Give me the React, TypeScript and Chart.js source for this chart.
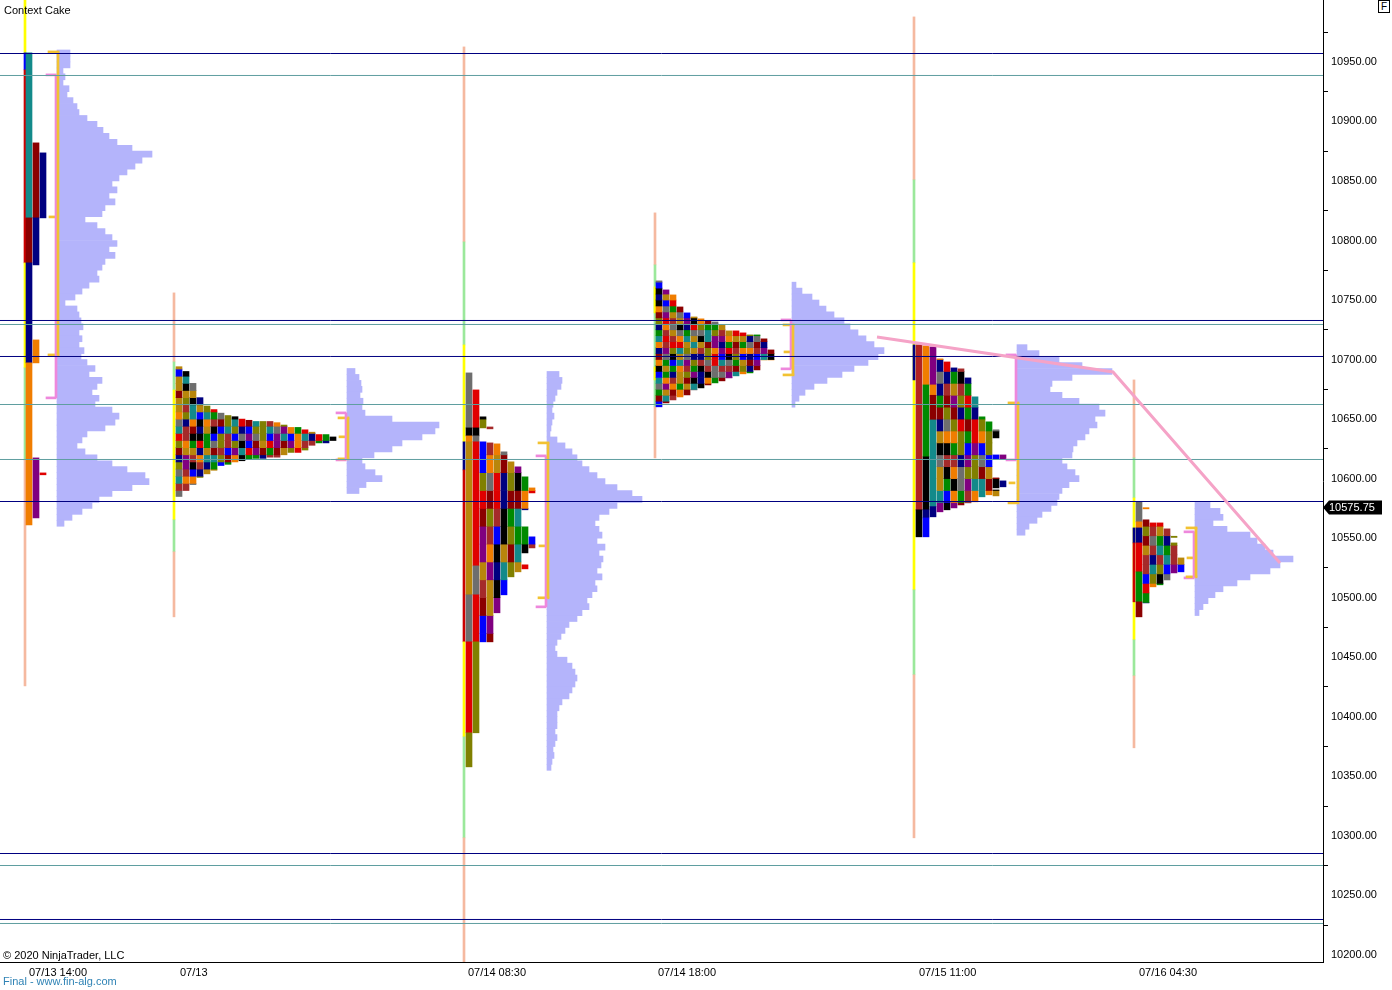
import React, { useEffect, useRef } from "react";
import Chart from "chart.js/auto";

const FONT = '"Liberation Sans", Arial, Helvetica, sans-serif';

// ---------- axes ----------
const Y_MIN = 10194;
const Y_MAX = 11002;
const Y_TICKS = [10200, 10250, 10300, 10350, 10400, 10450, 10500, 10550, 10600, 10650, 10700, 10750, 10800, 10850, 10900, 10950];
const X_MIN = 0;
const X_MAX = 1323;
const X_TICK_POS = [29, 180, 468, 658, 919, 1139];
const X_TICK_LABELS = ["07/13 14:00", "07/13", "07/14 08:30", "07/14 18:00", "07/15 11:00", "07/16 04:30"];
const LAST_PRICE = 10575.75;

// ---------- horizontal levels ----------
const NAVY_LEVELS = [10957.06, 10732.81, 10702.57, 10580.78, 10285.13, 10229.7];
const TEAL_LEVELS = [10938.59, 10729.45, 10662.25, 10616.06, 10275.05, 10226.34];

// ---------- session lines: [session, low, high, colour] ----------
const SESSION_X = [25, 174, 464, 655, 914, 1134];
const SESSION_SEGMENTS: [number, number, number, string][] = [
  [0, 10957.6, 11002, "y"], [0, 10943.3, 10957.6, "blue"], [0, 10781.2, 10943.3, "red"], [0, 10693.0, 10781.2, "y"], [0, 10615.7, 10693.0, "g"], [0, 10425.9, 10615.7, "s"],
  [1, 10698.0, 10756.0, "s"], [1, 10674.5, 10698.0, "g"], [1, 10565.4, 10674.5, "y"], [1, 10538.5, 10565.4, "g"], [1, 10483.9, 10538.5, "s"],
  [2, 10798.8, 10962.6, "s"], [2, 10712.3, 10798.8, "g"], [2, 10630.9, 10712.3, "y"], [2, 10607.3, 10630.9, "navy"], [2, 10462.9, 10607.3, "red"], [2, 10383.1, 10462.9, "y"], [2, 10298.3, 10383.1, "g"], [2, 10194, 10298.3, "s"],
  [3, 10779.5, 10823.2, "s"], [3, 10660.3, 10779.5, "g"], [3, 10739.2, 10761.0, "y"], [3, 10682.9, 10693.8, "y"], [3, 10617.4, 10660.3, "s"],
  [4, 10850.9, 10987.8, "s"], [4, 10781.2, 10850.9, "g"], [4, 10506.6, 10781.2, "y"], [4, 10435.2, 10506.6, "g"], [4, 10298.3, 10435.2, "s"], [4, 10682.9, 10712.3, "navy"],
  [5, 10617.4, 10682.9, "s"], [5, 10583.8, 10617.4, "g"], [5, 10464.6, 10583.8, "y"], [5, 10434.3, 10464.6, "g"], [5, 10373.9, 10434.3, "s"], [5, 10546.0, 10558.6, "navy"], [5, 10496.5, 10546.0, "red"],
];

// ---------- volume profiles (row width per 5-point row, from top row) ----------
const PROFILE_BASE_X = [57, 347, 547, 792, 1017, 1195];
const VOL_TOP = [10957.5, 10690, 10687.5, 10762.5, 10710, 10577.5];
const VOL_STEP = 5;
const P1_VOL = [13, 13, 13, 6, 8, 6, 12, 10, 16, 20, 22, 30, 40, 46, 52, 60, 75, 95, 85, 78, 70, 62, 55, 60, 52, 58, 48, 45, 28, 40, 48, 55, 60, 52, 58, 48, 45, 40, 42, 32, 25, 18, 8, 20, 22, 24, 26, 22, 25, 22, 27, 24, 30, 38, 32, 45, 40, 35, 42, 38, 55, 62, 58, 48, 30, 25, 20, 28, 40, 55, 70, 88, 92, 75, 55, 42, 35, 25, 15, 7];
const P2_VOL = [8, 12, 14, 15, 13, 16, 15, 18, 45, 92, 88, 75, 55, 45, 27, 15, 18, 28, 35, 19, 12];
const P3_VOL = [12, 15, 14, 10, 8, 6, 5, 7, 5, 4, 3, 10, 18, 25, 30, 35, 42, 50, 58, 70, 85, 95, 70, 62, 52, 48, 52, 55, 50, 58, 52, 56, 54, 50, 55, 48, 50, 45, 40, 42, 35, 30, 22, 18, 14, 10, 8, 10, 20, 25, 28, 30, 28, 25, 22, 15, 12, 10, 10, 10, 8, 10, 8, 6, 7, 5, 4];
const P4_VOL = [4, 10, 20, 27, 34, 42, 52, 58, 66, 74, 82, 92, 86, 76, 62, 50, 35, 22, 13, 7, 3];
const P5_VOL = [10, 22, 42, 65, 95, 55, 35, 33, 45, 62, 82, 88, 78, 80, 72, 68, 60, 56, 55, 45, 50, 58, 62, 52, 45, 42, 40, 34, 25, 20, 12, 8];
const P6_VOL = [15, 25, 28, 18, 32, 55, 62, 70, 78, 98, 85, 75, 55, 42, 28, 20, 13, 8, 4];
const VOLUMES = [P1_VOL, P2_VOL, P3_VOL, P4_VOL, P5_VOL, P6_VOL];

// ---------- value areas ----------
const VA_YELLOW: [number, number, number][] = [
  [10703.9, 10958.4, 10819.8],
  [10616.6, 10651.0, 10635.1],
  [10499.9, 10630.0, 10543.5],
  [10687.1, 10729.1, 10706.4],
  [10579.6, 10663.6, 10596.4],
  [10517.5, 10558.6, 10533.4],
];
const VA_PINK: [number, number][] = [
  [10667.8, 10939.1],
  [10615.7, 10655.2],
  [10492.3, 10619.1],
  [10692.2, 10733.3],
  [10615.7, 10703.9],
  [10516.6, 10555.3],
];

// ---------- naked POC trend ----------
const TREND_X = [877, 1113, 1280];
const TREND_Y = [10719.0, 10689.6, 10529.2];

// ---------- TPO blocks ----------
const P1_SEGS: [number, number, number, string][] = [
  [0, 10819.0, 10957.6, "teal"], [0, 10781.2, 10819.0, "darkred"], [0, 10697.2, 10781.2, "navy"], [0, 10561.2, 10697.2, "orange"],
  [1, 10819.0, 10882.0, "darkred"], [1, 10779.5, 10819.0, "navy"], [1, 10697.2, 10716.5, "orange"], [1, 10567.0, 10617.4, "purple"],
  [2, 10819.0, 10873.6, "navy"], [2, 10603.2, 10604.8, "red"],
];
const P3_SEGS: [number, number, number, string][] = [
  [0, 10642.6, 10688.8, "gray"], [0, 10635.9, 10642.6, "black"], [0, 10630.9, 10635.9, "orange"], [0, 10502.4, 10630.9, "goldenrod"], [0, 10462.9, 10502.4, "gray"], [0, 10386.5, 10462.9, "red"], [0, 10357.9, 10386.5, "olive"],
  [1, 10642.6, 10674.5, "red"], [1, 10635.9, 10642.6, "black"], [1, 10630.9, 10635.9, "gray"], [1, 10526.7, 10630.9, "red"], [1, 10502.4, 10526.7, "gray"], [1, 10462.9, 10502.4, "red"], [1, 10386.5, 10462.9, "olive"],
];
const P5_SEGS: [number, number, number, string][] = [
  [0, 10573.8, 10712.3, "brick"], [0, 10551.1, 10573.8, "black"],
  [1, 10678.7, 10711.5, "orange"], [1, 10618.3, 10678.7, "green"], [1, 10573.8, 10618.3, "black"], [1, 10567.0, 10573.8, "navy"], [1, 10551.1, 10567.0, "blue"],
  [2, 10678.7, 10710.6, "purple"], [2, 10670.0, 10678.7, "orange"], [2, 10649.3, 10670.0, "darkred"], [2, 10576.5, 10649.3, "teal"], [2, 10567.9, 10576.5, "navy"],
];
const P6_SEGS: [number, number, number, string][] = [
  [0, 10563.7, 10580.5, "gray"], [0, 10558.6, 10563.7, "orange"], [0, 10546.0, 10558.6, "navy"], [0, 10521.7, 10546.0, "red"], [0, 10496.5, 10521.7, "green"], [0, 10483.9, 10496.5, "darkred"],
];

const P2_COLS: [number, number][][] = [
  [[10585, 10694]], [[10590, 10690]], [[10595, 10680]], [[10601, 10668]], [[10604, 10661]], [[10607, 10658]], [[10611, 10655]], [[10612, 10653]],
  [[10614, 10652]], [[10615, 10650]], [[10616, 10649]], [[10617, 10648]], [[10617, 10648]], [[10618, 10648]], [[10618, 10647]], [[10620, 10645]],
  [[10622, 10643]], [[10622, 10643]], [[10624, 10641]], [[10628, 10639]], [[10630, 10637]], [[10630, 10637]], [[10632, 10635]],
];
const P3_COLS: [number, number][][] = [
  [[10642.6, 10651.9], [10462.9, 10630.9]],
  [[10641.8, 10643.4], [10462.9, 10630.0]],
  [[10487.3, 10629.2]],
  [[10502.4, 10622.5]],
  [[10517.5, 10614.1]],
  [[10521.7, 10609.9]],
  [[10573.8, 10601.5], [10537.6, 10559.5], [10524.2, 10527.6]],
  [[10588.0, 10592.2], [10541.8, 10551.1]],
];
const P4_COLS: [number, number][][] = [
  [[10660.3, 10766.1]], [[10663.6, 10758.5]], [[10666.1, 10754.3]], [[10668.6, 10744.2]], [[10670.3, 10739.2]], [[10674.5, 10735.8]],
  [[10676.2, 10734.2]], [[10678.7, 10732.5]], [[10680.4, 10731.6]], [[10682.1, 10729.1]], [[10684.6, 10724.1]], [[10686.3, 10724.1]],
  [[10688.0, 10722.4]], [[10688.8, 10720.7]], [[10691.3, 10720.7]], [[10699.7, 10717.4]], [[10699.7, 10708.1]],
];
const P5_COLS: [number, number][][] = [
  [[10572.1, 10700.6]], [[10573.8, 10698.0]], [[10575.4, 10693.0]], [[10577.9, 10692.2]], [[10579.6, 10684.6]],
  [[10580.5, 10668.7]], [[10584.7, 10651.9]], [[10586.4, 10647.7]],
  [[10634.2, 10641.0], [10616.6, 10619.9], [10592.2, 10600.6], [10585.5, 10590.5]],
  [[10616.6, 10619.9], [10593.1, 10598.1]],
];
const P6_COLS: [number, number][][] = [
  [[10574.6, 10575.6], [10495.6, 10565.4]],
  [[10509.1, 10562.8]],
  [[10510.8, 10562.8]],
  [[10514.9, 10557.8]],
  [[10550.6, 10551.6], [10520.8, 10546.0]],
  [[10521.7, 10533.4]],
];

const TPO_EXPLICIT = [P1_SEGS, [], P3_SEGS, [], P5_SEGS, P6_SEGS];
const TPO_COLS = [[], P2_COLS, P3_COLS, P4_COLS, P5_COLS, P6_COLS];
const TPO_LAYOUT = [
  { start: 29, step: 7, cell: 5, first: 0 },
  { start: 179, step: 7, cell: 6, first: 0 },
  { start: 469, step: 7, cell: 15, first: 2 },
  { start: 659, step: 7, cell: 5, first: 0 },
  { start: 919, step: 7, cell: 10, first: 3 },
  { start: 1139, step: 7, cell: 8, first: 1 },
];

const NAMED: Record<string, string> = {
  teal: "#138a8a", darkred: "#8b0000", navy: "#000080", orange: "#f07d00", purple: "#800080", gray: "#6e6e6e",
  black: "#000000", goldenrod: "#b8860b", red: "#e00000", olive: "#808000", green: "#008a00", blue: "#0000ff", brick: "#b22222",
};
const TPO_PALETTE = ["#e00000", "#000080", "#0000ff", "#8b0000", "#f07d00", "#808000", "#6e6e6e", "#800080", "#138a8a", "#008a00", "#000000", "#b8860b", "#a52a2a"];
const SESSION_COLORS: Record<string, string> = { y: "#ffff00", g: "#9be89b", s: "#f5b9a0", red: "#cc0000", navy: "#000080", blue: "#0000ff" };
const VOL_COLOR = "#b4b4fb";
const VA_YELLOW_COLOR = "#f2c232";
const VA_PINK_COLOR = "#ee88dc";

function pickColor(p: number, col: number, k: number) {
  let h = Math.imul(p + 11, 0x9e3779b1) ^ Math.imul(col + 101, 0x85ebca6b) ^ Math.imul(k + 1009, 0xc2b2ae35);
  h ^= h >>> 15;
  h = Math.imul(h, 0x2c1b3c6d);
  h ^= h >>> 12;
  return TPO_PALETTE[(h >>> 0) % TPO_PALETTE.length];
}

function buildData() {
  const tpo: any[] = [];
  const tpoColors: string[] = [];
  TPO_LAYOUT.forEach((lay, p) => {
    (TPO_EXPLICIT[p] as [number, number, number, string][]).forEach(([col, lo, hi, c]) => {
      tpo.push({ x: lay.start + col * lay.step, y: [lo, hi] });
      tpoColors.push(NAMED[c]);
    });
    (TPO_COLS[p] as [number, number][][]).forEach((ranges, i) => {
      const col = lay.first + i;
      const x = lay.start + col * lay.step;
      ranges.forEach(([lo, hi]) => {
        const k0 = Math.floor(lo / lay.cell);
        const k1 = Math.ceil(hi / lay.cell);
        for (let k = k0; k < k1; k++) {
          const a = Math.max(lo, k * lay.cell);
          const b = Math.min(hi, (k + 1) * lay.cell);
          if (b - a <= 0.05) continue;
          tpo.push({ x, y: [a, b] });
          tpoColors.push(pickColor(p, col, k));
        }
      });
    });
  });

  const sess = SESSION_SEGMENTS.map(([s, lo, hi]) => ({ x: SESSION_X[s], y: [lo, hi] }));
  const sessColors = SESSION_SEGMENTS.map((s) => SESSION_COLORS[s[3]]);

  const vol: any[] = [];
  VOLUMES.forEach((rows, p) => {
    const base = PROFILE_BASE_X[p];
    rows.forEach((w, k) => vol.push({ y: VOL_TOP[p] - k * VOL_STEP, x: [base, base + w] }));
  });

  const vaV: any[] = [];
  const vaVC: string[] = [];
  const vaT: any[] = [];
  const vaTC: string[] = [];
  PROFILE_BASE_X.forEach((base, p) => {
    const [pl, ph] = VA_PINK[p];
    const [yl, yh, poc] = VA_YELLOW[p];
    vaV.push({ x: base - 1, y: [pl, ph] }); vaVC.push(VA_PINK_COLOR);
    vaV.push({ x: base + 1, y: [yl, yh] }); vaVC.push(VA_YELLOW_COLOR);
    vaT.push({ y: ph, x: [base - 11, base - 1] }); vaTC.push(VA_PINK_COLOR);
    vaT.push({ y: pl, x: [base - 11, base - 1] }); vaTC.push(VA_PINK_COLOR);
    vaT.push({ y: yh, x: [base - 9, base + 2] }); vaTC.push(VA_YELLOW_COLOR);
    vaT.push({ y: yl, x: [base - 9, base + 2] }); vaTC.push(VA_YELLOW_COLOR);
    vaT.push({ y: poc, x: [base - 8, base - 2] }); vaTC.push(VA_YELLOW_COLOR);
  });

  const levelLine = (v: number, color: string) => ({
    type: "line",
    data: [{ x: X_MIN, y: v }, { x: X_MAX, y: v }],
    borderColor: color,
    borderWidth: 1,
    pointRadius: 0,
    fill: false,
    order: 1,
  });

  const barBase = { type: "bar", grouped: false, borderWidth: 0 };

  return [
    {
      type: "line",
      data: TREND_X.map((x, i) => ({ x, y: TREND_Y[i] })),
      borderColor: "#f5a3c7",
      borderWidth: 3,
      pointRadius: 0,
      fill: false,
      order: 0,
    },
    ...NAVY_LEVELS.map((v) => levelLine(v, "#000080")),
    ...TEAL_LEVELS.map((v) => levelLine(v, "#5f9ea0")),
    { ...barBase, indexAxis: "x", barThickness: 2, data: vaV, backgroundColor: vaVC, order: 2 },
    { ...barBase, indexAxis: "y", barThickness: 2, data: vaT, backgroundColor: vaTC, order: 2 },
    { ...barBase, indexAxis: "x", barThickness: 6, data: tpo, backgroundColor: tpoColors, order: 3 },
    { ...barBase, indexAxis: "x", barThickness: 2, data: sess, backgroundColor: sessColors, order: 4 },
    { ...barBase, indexAxis: "y", barThickness: 6, data: vol, backgroundColor: VOL_COLOR, order: 5 },
  ];
}

const lastPricePlugin = {
  id: "lastPriceMarker",
  afterDraw(chart: any) {
    const { ctx } = chart;
    const y = chart.scales.y.getPixelForValue(LAST_PRICE);
    const x0 = chart.chartArea.right;
    ctx.save();
    ctx.fillStyle = "#000";
    ctx.beginPath();
    ctx.moveTo(x0, y);
    ctx.lineTo(x0 + 6, y - 7);
    ctx.lineTo(x0 + 59, y - 7);
    ctx.lineTo(x0 + 59, y + 7);
    ctx.lineTo(x0 + 6, y + 7);
    ctx.closePath();
    ctx.fill();
    ctx.fillStyle = "#fff";
    ctx.font = `11px ${FONT}`;
    ctx.textBaseline = "middle";
    ctx.textAlign = "left";
    ctx.fillText(LAST_PRICE.toFixed(2), x0 + 6, y + 0.5);
    ctx.restore();
  },
};

export default function App() {
  const ref = useRef<HTMLCanvasElement>(null);
  useEffect(() => {
    document.body.style.margin = "0";
    const tickFont = { family: FONT, size: 11 };
    const chart = new Chart(ref.current as HTMLCanvasElement, {
      type: "bar",
      data: { datasets: buildData() as any },
      options: {
        responsive: false,
        animation: false,
        events: [],
        layout: { padding: 0, autoPadding: false } as any,
        plugins: { legend: { display: false }, tooltip: { enabled: false }, title: { display: false } },
        scales: {
          x: {
            type: "linear",
            min: X_MIN,
            max: X_MAX,
            offset: false,
            position: "bottom",
            afterBuildTicks: (s: any) => {
              s.ticks = X_TICK_POS.map((v) => ({ value: v }));
            },
            afterFit: (s: any) => {
              s.height = 28;
              s.paddingLeft = 0; s.paddingRight = 0; s.paddingTop = 0; s.paddingBottom = 0;
            },
            ticks: {
              autoSkip: false,
              maxRotation: 0,
              minRotation: 0,
              align: "start",
              padding: 4,
              color: "#000",
              font: tickFont,
              callback: (_v: any, i: number) => X_TICK_LABELS[i] ?? "",
            },
            grid: { display: true, drawOnChartArea: false, drawTicks: false },
            border: { display: true, color: "#000", width: 1 },
          },
          y: {
            type: "linear",
            position: "right",
            min: Y_MIN,
            max: Y_MAX,
            offset: false,
            beginAtZero: false,
            afterBuildTicks: (s: any) => {
              s.ticks = Y_TICKS.map((v) => ({ value: v }));
            },
            afterFit: (s: any) => {
              s.width = 69;
              s.paddingLeft = 0; s.paddingRight = 0; s.paddingTop = 0; s.paddingBottom = 0;
            },
            ticks: {
              autoSkip: false,
              padding: 3,
              color: "#000",
              font: tickFont,
              callback: (v: any) => Number(v).toFixed(2),
            },
            grid: { display: true, drawOnChartArea: false, drawTicks: true, tickLength: 5, color: "#000" },
            border: { display: true, color: "#000", width: 1 },
          },
        },
      } as any,
      plugins: [lastPricePlugin],
    });
    return () => chart.destroy();
  }, []);

  const txt: React.CSSProperties = { position: "absolute", fontFamily: FONT, fontSize: 11, lineHeight: "13px", whiteSpace: "nowrap", color: "#000" };
  return (
    <div style={{ position: "relative", width: 1392, height: 990, background: "#fff", overflow: "hidden" }}>
      <canvas ref={ref} width={1392} height={990} style={{ position: "absolute", left: 0, top: 0, width: 1392, height: 990 }} />
      <div style={{ ...txt, left: 4, top: 4 }}>Context Cake</div>
      <div style={{ ...txt, left: 3, top: 949 }}>© 2020 NinjaTrader, LLC</div>
      <div style={{ ...txt, left: 3, top: 975, color: "#2f83b5" }}>Final - www.fin-alg.com</div>
      <div
        style={{
          ...txt,
          left: 1378,
          top: 0,
          width: 10,
          height: 11,
          border: "1px solid #000",
          fontSize: 10,
          lineHeight: "11px",
          textAlign: "center",
          background: "#fff",
        }}
      >
        F
      </div>
    </div>
  );
}
